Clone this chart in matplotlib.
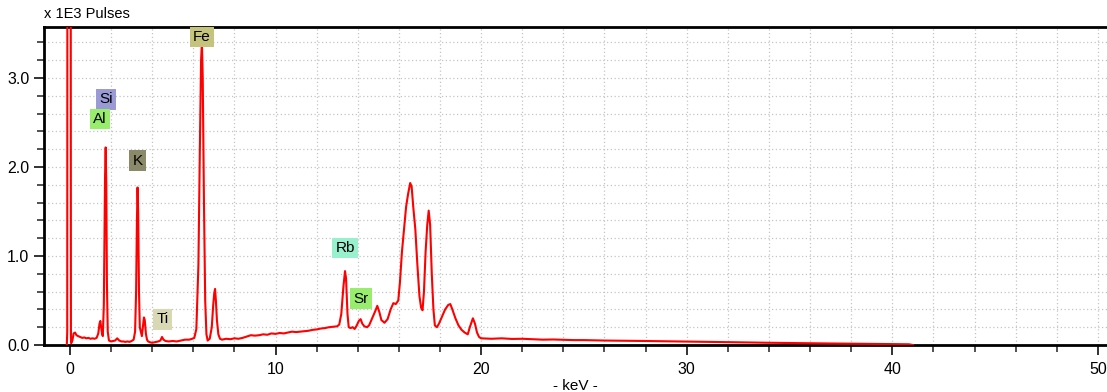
import matplotlib.pyplot as plt
from matplotlib.ticker import MultipleLocator, FormatStrFormatter

plt.rcParams['font.family'] = ['Liberation Sans', 'DejaVu Sans']

# spectrum, energy in keV, counts in thousands of pulses
kev = [-0.15, -0.13, -0.12, -0.05, 0.03, 0.05, 0.06, 0.12, 0.18, 0.25, 0.32, 0.4, 0.5, 0.6, 0.7,
       0.8, 0.9, 1.0, 1.1, 1.2, 1.3, 1.38, 1.44, 1.48, 1.52, 1.56, 1.6, 1.65, 1.68, 1.71,
       1.74, 1.77, 1.8, 1.84, 1.9, 2.0, 2.1, 2.2, 2.3, 2.4, 2.5, 2.6, 2.7, 2.8, 2.9,
       3.0, 3.1, 3.17, 3.22, 3.26, 3.29, 3.32, 3.36, 3.4, 3.45, 3.5, 3.55, 3.6, 3.64, 3.7,
       3.75, 3.8, 3.9, 4.0, 4.1, 4.2, 4.3, 4.4, 4.48, 4.55, 4.65, 4.8, 5.0, 5.2, 5.4,
       5.6, 5.8, 5.95, 6.05, 6.15, 6.25, 6.32, 6.38, 6.42, 6.46, 6.52, 6.58, 6.64, 6.7, 6.8,
       6.9, 6.97, 7.02, 7.06, 7.1, 7.15, 7.22, 7.3, 7.4, 7.6, 7.8, 8.0, 8.2, 8.4, 8.6,
       8.8, 9.0, 9.2, 9.4, 9.6, 9.8, 10.0, 10.2, 10.4, 10.6, 10.8, 11.0, 11.2, 11.4, 11.6,
       11.8, 12.0, 12.2, 12.4, 12.6, 12.8, 13.0, 13.1, 13.2, 13.3, 13.38, 13.43, 13.5, 13.56, 13.65,
       13.75, 13.85, 13.95, 14.05, 14.14, 14.22, 14.32, 14.45, 14.55, 14.7, 14.85, 14.95, 15.05, 15.15, 15.3,
       15.45, 15.6, 15.73, 15.85, 15.97, 16.05, 16.15, 16.25, 16.35, 16.45, 16.55, 16.62, 16.7, 16.8, 16.9,
       17.0, 17.08, 17.15, 17.22, 17.3, 17.38, 17.45, 17.52, 17.6, 17.68, 17.75, 17.85, 17.95, 18.1, 18.25,
       18.4, 18.5, 18.6, 18.75, 18.9, 19.05, 19.2, 19.35, 19.45, 19.6, 19.7, 19.8, 19.9, 20.0, 20.5,
       21, 21.5, 22, 22.5, 23, 23.5, 24, 24.5, 25, 26, 27, 28, 29, 30, 31,
       32, 33, 34, 35, 36, 37, 38, 39, 40, 40.8, 41]
pulses = [0.0, 0.15, 6.0, 12.0, 8.0, 0.1, 0.02, 0.05, 0.13, 0.14, 0.11, 0.10, 0.09, 0.08, 0.085,
          0.075, 0.08, 0.07, 0.075, 0.07, 0.08, 0.13, 0.24, 0.27, 0.20, 0.13, 0.10, 0.45, 1.2, 1.9,
          2.22, 1.8, 0.7, 0.15, 0.05, 0.04, 0.045, 0.05, 0.075, 0.05, 0.04, 0.04, 0.035, 0.04, 0.035,
          0.045, 0.06, 0.15, 0.6, 1.4, 1.77, 1.5, 0.6, 0.2, 0.15, 0.1, 0.2, 0.31, 0.28, 0.12,
          0.06, 0.04, 0.03, 0.025, 0.03, 0.035, 0.04, 0.05, 0.09, 0.06, 0.045, 0.04, 0.045, 0.04, 0.05,
          0.06, 0.06, 0.07, 0.08, 0.18, 0.9, 2.2, 3.2, 3.40, 3.0, 1.6, 0.5, 0.12, 0.05, 0.07,
          0.2, 0.45, 0.58, 0.63, 0.5, 0.28, 0.12, 0.07, 0.06, 0.07, 0.065, 0.075, 0.07, 0.08, 0.095,
          0.11, 0.105, 0.11, 0.12, 0.115, 0.13, 0.125, 0.135, 0.13, 0.14, 0.15, 0.145, 0.15, 0.155, 0.16,
          0.17, 0.175, 0.185, 0.19, 0.2, 0.205, 0.21, 0.23, 0.35, 0.65, 0.83, 0.75, 0.35, 0.2, 0.19,
          0.2, 0.18, 0.22, 0.27, 0.29, 0.24, 0.21, 0.2, 0.22, 0.3, 0.38, 0.44, 0.37, 0.28, 0.25,
          0.29, 0.4, 0.47, 0.46, 0.5, 0.7, 1.05, 1.3, 1.55, 1.7, 1.82, 1.78, 1.55, 1.3, 0.9,
          0.55, 0.42, 0.39, 0.6, 1.05, 1.35, 1.51, 1.35, 0.8, 0.4, 0.22, 0.2, 0.24, 0.32, 0.4,
          0.45, 0.46, 0.4, 0.3, 0.22, 0.17, 0.14, 0.12, 0.2, 0.3, 0.24, 0.14, 0.09, 0.075, 0.07,
          0.075, 0.068, 0.07, 0.065, 0.06, 0.062, 0.058, 0.055, 0.055, 0.05, 0.048, 0.045, 0.042, 0.04, 0.035,
          0.032, 0.028, 0.025, 0.022, 0.02, 0.017, 0.015, 0.012, 0.01, 0.008, 0.0]

# element labels: name, keV position, height (thousands), box colour
elements = ['Fe', 'Si', 'Al', 'K', 'Ti', 'Rb', 'Sr']
el_kev = [6.42, 1.74, 1.46, 3.29, 4.5, 13.39, 14.14]
el_y = [3.46, 2.76, 2.54, 2.07, 0.29, 1.09, 0.52]
el_col = ['#c4c47c', '#9a9ad6', '#98ee6c', '#8a8a6a', '#d8d8b4', '#98f0cc', '#98ee6c']

fig = plt.figure(figsize=(11.07, 3.92), dpi=100)
ax = fig.add_axes([44/1107, 1-345/392, 1-44/1107, (345-27)/392])

ax.plot(kev, pulses, color='#ff0000', lw=1.5, zorder=3)

ax.set_xlim(-1.26, 50.44)
ax.set_ylim(0, 3.573)
ax.xaxis.set_major_locator(MultipleLocator(10))
ax.xaxis.set_minor_locator(MultipleLocator(2))
ax.yaxis.set_major_locator(MultipleLocator(1))
ax.yaxis.set_minor_locator(MultipleLocator(0.2))
ax.yaxis.set_major_formatter(FormatStrFormatter('%.1f'))
ax.grid(True, which='both', color='#c4c4c4', lw=0.9, ls=(0, (1, 2)))
ax.set_axisbelow(True)

ax.tick_params(which='major', length=7, width=1.3, labelsize=11.5, color='#222222')
ax.tick_params(axis='x', which='major', pad=5)
ax.tick_params(which='minor', length=5, width=1.1, color='#222222')
ax.spines['right'].set_visible(False)
for s in ['top', 'left', 'bottom']:
    ax.spines[s].set_linewidth(2)
    ax.spines[s].set_color('black')

for name, x, y, c in zip(elements, el_kev, el_y, el_col):
    ax.text(x, y, name, ha='center', va='center', fontsize=11, zorder=4,
            bbox=dict(boxstyle='square,pad=0.22', fc=c, ec='none'))

ax.set_xlabel('- keV -', fontsize=11, labelpad=2)
ax.annotate('x 1E3 Pulses', xy=(0, 1), xycoords='axes fraction', xytext=(0, 4),
            textcoords='offset points', ha='left', va='bottom', fontsize=10.5)

fig.savefig('out.png', dpi=100)
